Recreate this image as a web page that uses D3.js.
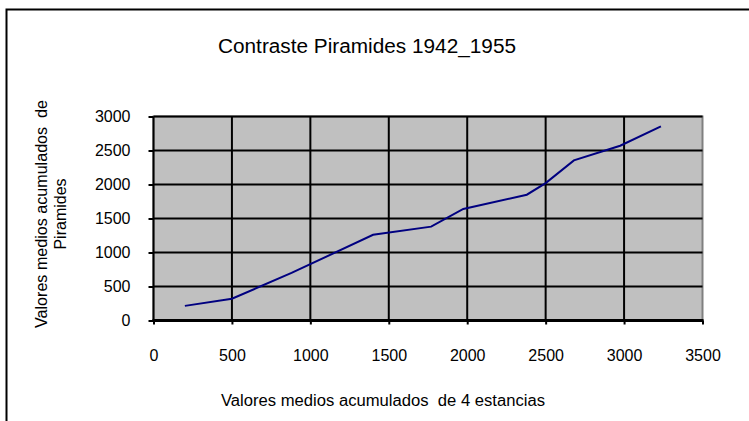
<!DOCTYPE html>
<html><head><meta charset="utf-8">
<script src="https://cdn.jsdelivr.net/npm/d3@7"></script>
<style>body{margin:0;background:#fff;} svg{display:block;font-family:"Liberation Sans",Arial,sans-serif;}</style>
</head><body><svg id="c" width="749" height="421"></svg>
<script>
const xValues = [200, 500, 880, 1400, 1770, 1975, 2380, 2500, 2680, 2975, 3235];
const yValues = [215, 320, 700, 1260, 1380, 1640, 1850, 2020, 2355, 2570, 2855];
const xTicks = [0, 500, 1000, 1500, 2000, 2500, 3000, 3500];
const yTicks = [0, 500, 1000, 1500, 2000, 2500, 3000];
const title = "Contraste Piramides 1942_1955";
const xTitle = "Valores medios acumulados  de 4 estancias";
const yTitleLines = ["Valores medios acumulados  de", "Piramides"];

const svg = d3.select("#c");
const L = 153.5, R = 702.5, T = 116.5, B = 320.5;
const x = d3.scaleLinear().domain([0, 3500]).range([L, R]);
const y = d3.scaleLinear().domain([0, 3000]).range([B, T]);
const FF = "Liberation Sans, Arial, sans-serif";

// outer frame
svg.append("rect").attr("x", 6.5).attr("y", 9.5).attr("width", 800).attr("height", 500)
  .attr("fill", "none").attr("stroke", "#000").attr("stroke-width", 2);

// plot background
svg.append("rect").attr("x", L).attr("y", T).attr("width", R - L).attr("height", B - T)
  .attr("fill", "#c0c0c0").attr("stroke", "#808080").attr("stroke-width", 2);

// gridlines
svg.append("g").selectAll("line").data(yTicks.filter(d => d > 0)).join("line")
  .attr("x1", L).attr("x2", R).attr("y1", d => y(d)).attr("y2", d => y(d))
  .attr("stroke", "#000").attr("stroke-width", 2);
svg.append("g").selectAll("line").data(xTicks.filter(d => d > 0 && d < 3500)).join("line")
  .attr("y1", T).attr("y2", B).attr("x1", d => x(d)).attr("x2", d => x(d))
  .attr("stroke", "#000").attr("stroke-width", 2);

// axes
const xAxis = d3.axisBottom(x).tickValues(xTicks).tickSize(4).tickFormat(d3.format("d")).tickPadding(25);
const gx = svg.append("g").attr("transform", `translate(0,${B})`).call(xAxis);
gx.select(".domain").attr("stroke-width", 3).attr("d", `M${L - 1},0H${R + 1}`);
gx.selectAll(".tick line").attr("stroke-width", 2);
gx.selectAll("text").attr("font-size", 16).attr("fill", "#000").attr("font-family", FF);

const yAxis = d3.axisLeft(y).tickValues(yTicks).tickSize(5).tickFormat(d3.format("d")).tickPadding(18);
const gy = svg.append("g").attr("transform", `translate(${L},0)`).call(yAxis);
gy.select(".domain").attr("stroke-width", 2).attr("d", `M0,${T}V${B}`);
gy.selectAll(".tick line").attr("stroke-width", 2);
gy.selectAll("text").attr("font-size", 16).attr("fill", "#000").attr("font-family", FF);

// line
const pts = xValues.map((v, i) => [v, yValues[i]]);
svg.append("path").datum(pts)
  .attr("fill", "none").attr("stroke", "#000080").attr("stroke-width", 2)
  .attr("d", d3.line().x(d => x(d[0])).y(d => y(d[1])));

// titles
svg.append("text").attr("x", 367).attr("y", 53).attr("text-anchor", "middle")
  .attr("font-size", 20).attr("textLength", 298).attr("lengthAdjust", "spacingAndGlyphs").text(title);
svg.append("text").attr("x", 383).attr("y", 406).attr("text-anchor", "middle")
  .attr("font-size", 16).attr("textLength", 324).attr("lengthAdjust", "spacingAndGlyphs")
  .style("white-space", "pre").text(xTitle);
const yt = svg.append("text").attr("transform", "translate(47,214) rotate(-90)")
  .attr("text-anchor", "middle").attr("font-size", 16).style("white-space", "pre");
yt.append("tspan").attr("x", 0).attr("dy", 0).attr("textLength", 228).attr("lengthAdjust", "spacingAndGlyphs").text(yTitleLines[0]);
yt.append("tspan").attr("x", 0).attr("dy", 19).text(yTitleLines[1]);
</script></body></html>
